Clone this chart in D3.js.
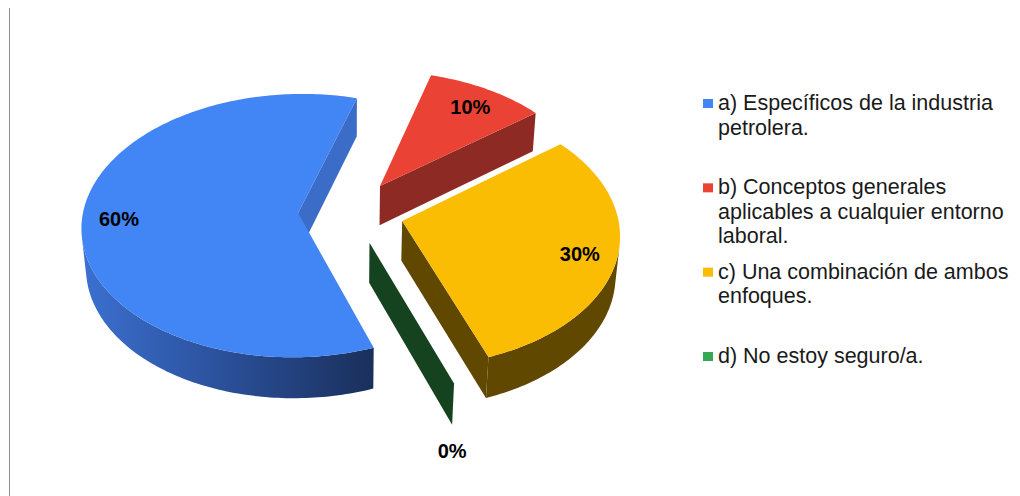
<!DOCTYPE html>
<html>
<head>
<meta charset="utf-8">
<script src="https://cdn.jsdelivr.net/npm/d3@7"></script>
<style>
  body { margin: 0; background: #fff; }
  svg { display: block; font-family: "Liberation Sans", Arial, sans-serif; }
</style>
</head>
<body>
<div id="chart"></div>
<script>
const svgWidth = 1020;
const svgHeight = 496;

// data
const categories = [
    "a) Específicos de la industria petrolera.",
    "b) Conceptos generales aplicables a cualquier entorno laboral.",
    "c) Una combinación de ambos enfoques.",
    "d) No estoy seguro/a."
];
const legendLines = [
    ["a) Específicos de la industria", "petrolera."],
    ["b) Conceptos generales", "aplicables a cualquier entorno", "laboral."],
    ["c) Una combinación de ambos", "enfoques."],
    ["d) No estoy seguro/a."]
];
const values = [60, 10, 30, 0];
const percentLabels = ["60%", "10%", "30%", "0%"];

const topColors = ["#4285f4", "#ea4335", "#fbbc04", "#34a853"];
const sideColors = ["#1d3563", "#8e2a24", "#614800", "#15421f"];
const endWallColors = ["#3a6cc8", "#8e2a24", "#614800", "#15421f"];

// 3d view settings (tilt + perspective)
const tilt = 37.3 * Math.PI / 180;
const camDist = 8.4;
const focal = 1806;
const centerX = 351;
const centerY = 212;
const explode = 0.246;
const thickness = 0.235;
const startDeg = 160;

document.addEventListener("DOMContentLoaded", function(event){
    drawChart();
});

function project(x, y, z){
    const pu = -y * Math.cos(tilt) + z * Math.sin(tilt);
    const pv = y * Math.sin(tilt) + z * Math.cos(tilt);
    const den = camDist - pu;
    return [centerX + focal * x / den, centerY - focal * pv / den];
}

function drawChart(){

    const svg = d3.select("#chart")
                  .append("svg")
                  .attr("width", svgWidth)
                  .attr("height", svgHeight);

    svg.append("rect")
       .attr("width", svgWidth)
       .attr("height", svgHeight)
       .attr("fill", "#fff");

    // thin frame line on the left
    svg.append("line")
       .attr("x1", 9.5).attr("x2", 9.5)
       .attr("y1", 8).attr("y2", svgHeight)
       .attr("stroke", "#8c8c8c")
       .attr("stroke-width", 1);

    const defs = svg.append("defs");
    const grad = defs.append("linearGradient")
                     .attr("id", "blueSide")
                     .attr("x1", 0).attr("x2", 1).attr("y1", 0).attr("y2", 0);
    grad.append("stop").attr("offset", 0).attr("stop-color", "#3c70d0");
    grad.append("stop").attr("offset", 0.5).attr("stop-color", "#2a4f98");
    grad.append("stop").attr("offset", 1).attr("stop-color", "#1a2f5b");

    const pie = d3.pie()
                  .sort(null)
                  .value(function(d){ return d; })
                  .startAngle(startDeg * Math.PI / 180)
                  .endAngle(startDeg * Math.PI / 180 + 2 * Math.PI);
    const arcs = pie(values);

    const camY = -camDist * Math.cos(tilt);
    const line = d3.line();

    function offsetOf(d){
        const mid = (d.startAngle + d.endAngle) / 2;
        return [explode * Math.sin(mid), explode * Math.cos(mid)];
    }

    function pt(d, ang, r, z){
        const o = offsetOf(d);
        return project(o[0] + r * Math.sin(ang), o[1] + r * Math.cos(ang), z);
    }

    function rimAngles(a0, a1){
        const n = Math.max(1, Math.ceil((a1 - a0) / (Math.PI / 180)));
        return d3.range(n + 1).map(function(i){ return a0 + (a1 - a0) * i / n; });
    }

    // far slices first
    const order = d3.range(arcs.length).sort(function(a, b){
        return offsetOf(arcs[b])[1] - offsetOf(arcs[a])[1];
    });

    const slices = svg.append("g");

    order.forEach(function(i){
        const d = arcs[i];
        const g = slices.append("g");
        const o = offsetOf(d);
        const h = -thickness;

        // outer wall, only the parts facing the camera
        const angs = rimAngles(d.startAngle, d.endAngle);
        let run = [];
        const runs = [];
        for (let k = 0; k < angs.length - 1; k++){
            const m = (angs[k] + angs[k + 1]) / 2;
            const px = o[0] + Math.sin(m), py = o[1] + Math.cos(m);
            const vis = Math.sin(m) * (-px) + Math.cos(m) * (camY - py) > 0;
            if (vis){
                if (run.length === 0) run.push(angs[k]);
                run.push(angs[k + 1]);
            } else if (run.length){
                runs.push(run); run = [];
            }
        }
        if (run.length) runs.push(run);
        runs.forEach(function(r){
            const pts = r.map(function(a){ return pt(d, a, 1, 0); })
                         .concat(r.slice().reverse().map(function(a){ return pt(d, a, 1, h); }));
            g.append("path")
             .attr("d", line(pts) + "Z")
             .attr("fill", i === 0 ? "url(#blueSide)" : sideColors[i]);
        });

        // radial walls
        [[d.startAngle, -1], [d.endAngle, 1]].forEach(function(w){
            const a = w[0];
            const nx = w[1] * Math.cos(a), ny = -w[1] * Math.sin(a);
            const px = o[0] + 0.5 * Math.sin(a), py = o[1] + 0.5 * Math.cos(a);
            if (nx * (-px) + ny * (camY - py) <= 0) return;
            const pts = [pt(d, a, 0, 0), pt(d, a, 1, 0), pt(d, a, 1, h), pt(d, a, 0, h)];
            g.append("path")
             .attr("d", line(pts) + "Z")
             .attr("fill", endWallColors[i]);
        });

        // top face
        if (d.endAngle - d.startAngle > 0){
            const pts = [pt(d, 0, 0, 0)].concat(angs.map(function(a){ return pt(d, a, 1, 0); }));
            g.append("path")
             .attr("d", line(pts) + "Z")
             .attr("fill", topColors[i]);
        }
    });

    // percentage labels
    arcs.forEach(function(d, i){
        const mid = (d.startAngle + d.endAngle) / 2;
        let p;
        if (d.value > 0){
            p = pt(d, mid, 0.83, 0);
        } else {
            p = pt(d, mid, 1, -thickness);
            p = [p[0], p[1] + 24];
        }
        svg.append("text")
           .attr("x", p[0])
           .attr("y", p[1] + 2)
           .attr("dy", "0.35em")
           .attr("text-anchor", "middle")
           .attr("font-size", 20)
           .attr("font-weight", "bold")
           .attr("fill", "#000")
           .text(percentLabels[i]);
    });

    // legend
    const legendY = d3.scalePoint()
                      .domain(categories)
                      .range([110, 363]);
    const legend = svg.append("g").attr("transform", "translate(703,0)");
    categories.forEach(function(c, i){
        const y0 = legendY(c);
        legend.append("rect")
              .attr("x", 0)
              .attr("y", y0 - 11)
              .attr("width", 10)
              .attr("height", 9)
              .attr("fill", topColors[i]);
        const t = legend.append("text")
                        .attr("x", 15)
                        .attr("y", y0)
                        .attr("font-size", 21.5)
                        .attr("fill", "#1a1a1a");
        legendLines[i].forEach(function(s, k){
            t.append("tspan")
             .attr("x", 15)
             .attr("y", y0 + k * 24.5)
             .text(s);
        });
    });
}
</script>
</body>
</html>
